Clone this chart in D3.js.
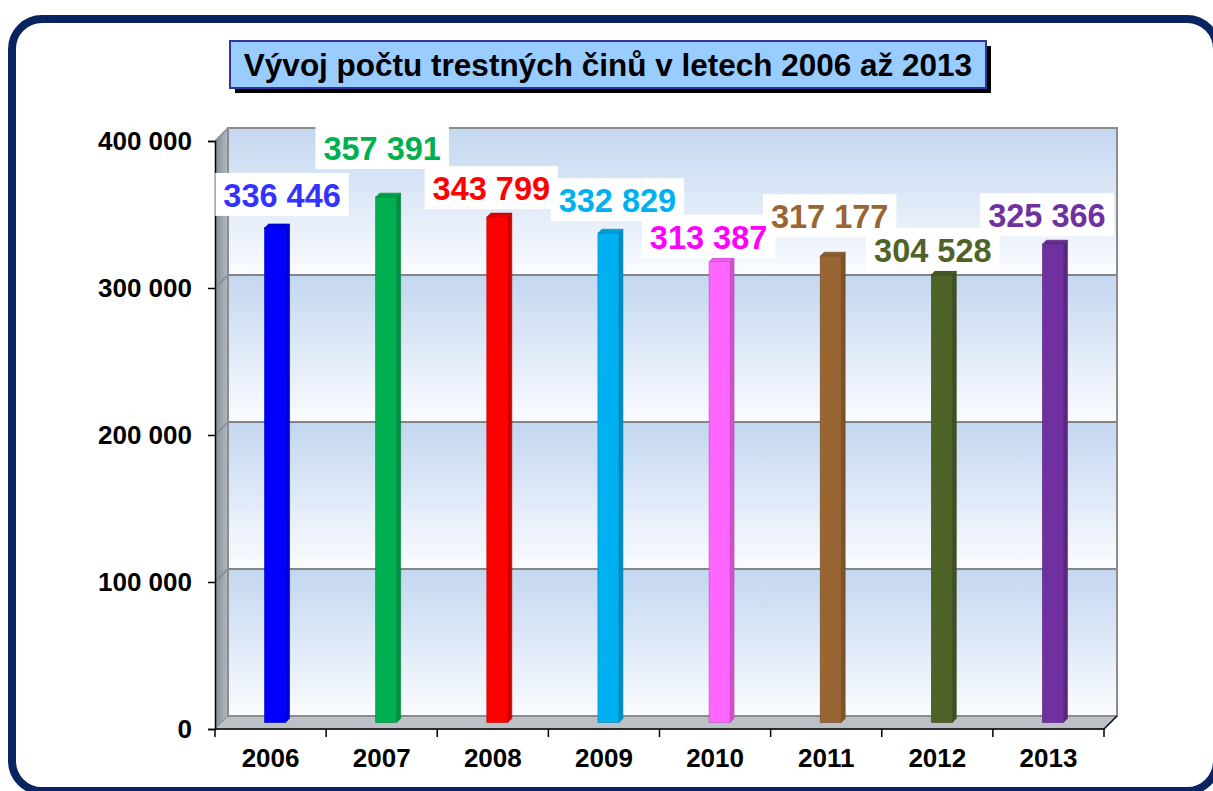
<!DOCTYPE html>
<html>
<head>
<meta charset="utf-8">
<script src="https://cdn.jsdelivr.net/npm/d3@7"></script>
<style>
  body { margin: 0; background: #fff; }
  svg { display: block; font-family: "Liberation Sans", Arial, sans-serif; }
</style>
</head>
<body>
<div class="chart"></div>
<script>
// data
var years = ["2006", "2007", "2008", "2009", "2010", "2011", "2012", "2013"];
var crimes = [336446, 357391, 343799, 332829, 313387, 317177, 304528, 325366];
var yTicks = [0, 100000, 200000, 300000, 400000];
var chartTitle = "Vývoj počtu trestných činů v letech 2006 až 2013";

// styles
var barColors = ["#0000ff", "#00b050", "#ff0000", "#00b0f0", "#ff66ff", "#996633", "#4f6228", "#7030a0"];
var labelColors = ["#3333ff", "#00b050", "#ff0000", "#00b0f0", "#ff00ff", "#996633", "#4f6228", "#7030a0"];
// label nudges (px) so the boxes don't collide, like the original layout
var labelDx = [5, -6, -8, 7, -13, -3, -11, -8];
var labelDy = [-32, -48, -28, -32, -24, -39, -24, -28];

var svgWidth = 1213;
var svgHeight = 791;

var svg = d3.select(".chart").append("svg")
  .attr("width", svgWidth)
  .attr("height", svgHeight);

var defs = svg.append("defs");

// outer rounded frame
svg.append("rect")
  .attr("x", 12).attr("y", 19)
  .attr("width", 1205).attr("height", 772)
  .attr("rx", 30).attr("ry", 30)
  .attr("fill", "#fff")
  .attr("stroke", "#0a2361")
  .attr("stroke-width", 8);

// title box with shadow
var titleG = svg.append("g");
titleG.append("rect")
  .attr("x", 235).attr("y", 46).attr("width", 756).attr("height", 47)
  .attr("fill", "#000");
titleG.append("rect")
  .attr("x", 230).attr("y", 41).attr("width", 756).attr("height", 47)
  .attr("fill", "#99ccff")
  .attr("stroke", "#333399")
  .attr("stroke-width", 2);
titleG.append("text")
  .attr("x", 608).attr("y", 76)
  .attr("text-anchor", "middle")
  .attr("font-size", 31.5)
  .attr("font-weight", "bold")
  .attr("fill", "#000")
  .text(chartTitle);

// 3d geometry
var depth = 13;
var x0 = 215, x1 = 1104;
var yFront = d3.scaleLinear().domain([0, 400000]).range([729, 141]);
var yBack = d3.scaleLinear().domain([0, 400000]).range([729 - depth, 141 - depth]);
var yMid = d3.scaleLinear().domain([0, 400000]).range([729 - depth / 2, 141 - depth / 2]);
var x = d3.scaleBand().domain(years).range([x0, x1]);

// wall band gradient
var bandGrad = defs.append("linearGradient").attr("id", "band")
  .attr("x1", 0).attr("y1", 0).attr("x2", 0).attr("y2", 1);
bandGrad.append("stop").attr("offset", "0%").attr("stop-color", "#c3d7f0");
bandGrad.append("stop").attr("offset", "100%").attr("stop-color", "#fafcff");

var sideGrad = defs.append("linearGradient").attr("id", "side")
  .attr("x1", 0).attr("y1", 0).attr("x2", 1).attr("y2", 0);
sideGrad.append("stop").attr("offset", "0%").attr("stop-color", "#838d99");
sideGrad.append("stop").attr("offset", "100%").attr("stop-color", "#b3b9c1");

var wall = svg.append("g");
for (var i = 0; i < yTicks.length - 1; i++) {
  wall.append("rect")
    .attr("x", x0 + depth)
    .attr("y", yBack(yTicks[i + 1]))
    .attr("width", x1 - x0)
    .attr("height", yBack(yTicks[i]) - yBack(yTicks[i + 1]))
    .attr("fill", "url(#band)");
}

// left side wall
wall.append("polygon")
  .attr("points", [[x0, yFront(400000)], [x0 + depth, yBack(400000)], [x0 + depth, yBack(0)], [x0, yFront(0)]].join(" "))
  .attr("fill", "url(#side)");

// floor
wall.append("polygon")
  .attr("points", [[x0, yFront(0)], [x0 + depth, yBack(0)], [x1 + depth, yBack(0)], [x1, yFront(0)]].join(" "))
  .attr("fill", "#bcc0c7")
  .attr("stroke", "#8a8f96")
  .attr("stroke-width", 1);

// gridlines
yTicks.forEach(function(v) {
  if (v === 0) return;
  wall.append("line")
    .attr("x1", x0 + depth).attr("x2", x1 + depth)
    .attr("y1", yBack(v)).attr("y2", yBack(v))
    .attr("stroke", "#858585").attr("stroke-width", 2);
  wall.append("line")
    .attr("x1", x0).attr("x2", x0 + depth)
    .attr("y1", yFront(v)).attr("y2", yBack(v))
    .attr("stroke", "#858585").attr("stroke-width", 1.5);
});

// back wall border
wall.append("rect")
  .attr("x", x0 + depth).attr("y", yBack(400000))
  .attr("width", x1 - x0).attr("height", yBack(0) - yBack(400000))
  .attr("fill", "none")
  .attr("stroke", "#8c8c8c").attr("stroke-width", 2);

// bars
var bw = 21, bd = 4;
var bars = svg.append("g").selectAll("g").data(crimes).enter().append("g");
bars.each(function(v, i) {
  var g = d3.select(this);
  var cx = x(years[i]) + x.bandwidth() / 2 + depth / 2;
  var left = cx - bw / 2 - bd / 2;
  var top = yMid(v), bot = yMid(0);
  var c = d3.color(barColors[i]);
  var edge = c.darker(0.8).toString();
  g.append("polygon")
    .attr("points", [[left + bw, top], [left + bw + bd, top - bd], [left + bw + bd, bot - bd], [left + bw, bot]].join(" "))
    .attr("fill", c.darker(0.6).toString())
    .attr("stroke", edge).attr("stroke-width", 0.6);
  g.append("polygon")
    .attr("points", [[left, top], [left + bd, top - bd], [left + bw + bd, top - bd], [left + bw, top]].join(" "))
    .attr("fill", c.darker(0.3).toString())
    .attr("stroke", edge).attr("stroke-width", 0.6);
  g.append("rect")
    .attr("x", left).attr("y", top)
    .attr("width", bw).attr("height", bot - top)
    .attr("fill", barColors[i])
    .attr("stroke", edge).attr("stroke-width", 0.6);
});

// axes
var fmt = function(d) { return d3.format(",")(d).replace(/,/g, " "); };

var yAxis = svg.append("g")
  .attr("transform", "translate(" + x0 + ",0)")
  .call(d3.axisLeft(yFront).tickValues(yTicks).tickFormat(fmt).tickSize(7).tickPadding(16));
yAxis.select(".domain").attr("stroke", "#000").attr("stroke-width", 1.5);
yAxis.selectAll(".tick line").attr("stroke", "#000").attr("stroke-width", 1.5);
yAxis.selectAll("text")
  .attr("font-family", "Liberation Sans, Arial, sans-serif")
  .attr("font-size", 26).attr("font-weight", "bold").attr("fill", "#000");

var xAxis = svg.append("g")
  .attr("transform", "translate(0," + yFront(0) + ")")
  .call(d3.axisBottom(x).tickSize(0).tickPadding(20));
xAxis.select(".domain").remove();
xAxis.selectAll("text")
  .attr("font-family", "Liberation Sans, Arial, sans-serif")
  .attr("font-size", 26).attr("font-weight", "bold").attr("fill", "#000");

// x axis line, floor edge, boundary ticks
svg.append("line")
  .attr("x1", x0).attr("x2", x1)
  .attr("y1", yFront(0)).attr("y2", yFront(0))
  .attr("stroke", "#000").attr("stroke-width", 1.5);
svg.append("line")
  .attr("x1", x1).attr("x2", x1 + depth)
  .attr("y1", yFront(0)).attr("y2", yBack(0))
  .attr("stroke", "#000").attr("stroke-width", 1.5);
var bounds = years.map(function(d) { return x(d); }).concat([x1]);
svg.append("g").selectAll("line").data(bounds).enter().append("line")
  .attr("x1", function(d) { return d; }).attr("x2", function(d) { return d; })
  .attr("y1", yFront(0)).attr("y2", yFront(0) + 8)
  .attr("stroke", "#000").attr("stroke-width", 1.5);

// value labels: white boxes first, then the texts on top
var boxLayer = svg.append("g");
var textLayer = svg.append("g");
crimes.forEach(function(v, i) {
  var cx = x(years[i]) + x.bandwidth() / 2 + depth / 2 + labelDx[i];
  var cy = yMid(v) + labelDy[i];
  var t = textLayer.append("text")
    .attr("x", cx).attr("y", cy)
    .attr("text-anchor", "middle")
    .attr("dominant-baseline", "central")
    .attr("font-size", 32.5).attr("font-weight", "bold")
    .attr("fill", labelColors[i])
    .text(fmt(v));
  var bb = t.node().getBBox();
  boxLayer.append("rect")
    .attr("x", bb.x - 8).attr("y", cy - 23)
    .attr("width", bb.width + 16).attr("height", 43)
    .attr("fill", "#fff");
});
</script>
</body>
</html>
